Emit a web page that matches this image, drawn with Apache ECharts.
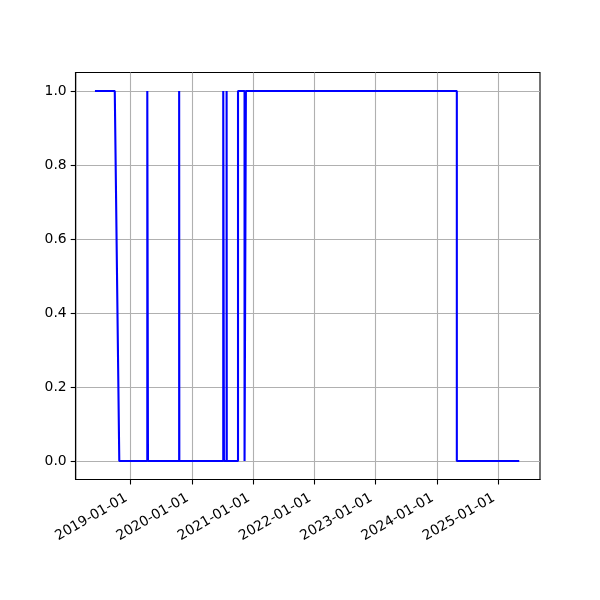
<!DOCTYPE html>
<html>
<head>
<meta charset="utf-8">
<script src="https://cdn.jsdelivr.net/npm/echarts@6/dist/echarts.min.js"></script>
<style>
html,body{margin:0;padding:0;background:#fff;}
#chart{width:600px;height:600px;}
</style>
</head>
<body>
<div id="chart"></div>
<script>
// Data
var dates = ['2018-06-08','2018-09-28','2018-10-25',
  '2019-04-10','2019-04-10','2019-04-14','2019-04-14',
  '2019-10-17','2019-10-17','2019-10-18','2019-10-18',
  '2020-07-06','2020-07-06','2020-07-10','2020-07-10',
  '2020-07-26','2020-07-26','2020-07-27','2020-07-27',
  '2020-10-02','2020-10-02',
  '2020-11-10','2020-11-10','2020-11-18','2020-11-18',
  '2024-04-29','2024-04-29','2025-04-30'];
var values = [1,1,0,
  0,1,1,0,
  0,1,1,0,
  0,1,1,0,
  0,1,1,0,
  0,1,
  1,0,0,1,
  1,0,0];
var xTickLabels = ['2019-01-01','2020-01-01','2021-01-01','2022-01-01','2023-01-01','2024-01-01','2025-01-01'];
var yTicks = [0.0, 0.2, 0.4, 0.6, 0.8, 1.0];
var xMin = '2018-02-07', xMax = '2025-09-07';
var yMin = -0.05, yMax = 1.05;

function parseDate(s){ var p = s.split('-'); return Date.UTC(+p[0], +p[1]-1, +p[2]); }
function pad(n){ return (n<10?'0':'')+n; }
function fmtDate(t){ var d = new Date(t); return d.getUTCFullYear()+'-'+pad(d.getUTCMonth()+1)+'-'+pad(d.getUTCDate()); }

var seriesData = dates.map(function(d,i){ return [parseDate(d), values[i]]; });
var xTickVals = xTickLabels.map(parseDate);

var chart = echarts.init(document.getElementById('chart'), null, {renderer:'canvas'});
var font = 'DejaVu Sans';
chart.setOption({
  animation: false,
  backgroundColor: '#ffffff',
  grid: {left: 75.7, right: 60, top: 72.5, bottom: 120.5, show: true, borderColor: '#000', borderWidth: 1.1, containLabel: false},
  xAxis: {
    type: 'value',
    min: parseDate(xMin), max: parseDate(xMax),
    axisLine: {show: true, onZero: false, lineStyle: {color: '#000', width: 1.1}},
    axisTick: {show: true, length: 5, lineStyle: {color: '#000', width: 1.1}, customValues: xTickVals},
    axisLabel: {customValues: xTickVals, rotate: 30, margin: 15, padding: [0, 5, 0, 0], color: '#000', fontFamily: font, fontSize: 13.9,
      formatter: function(v){ return fmtDate(v); }},
    splitLine: {show: true, lineStyle: {color: '#b0b0b0', width: 1.1}}
  },
  yAxis: {
    type: 'value',
    min: yMin, max: yMax,
    axisLine: {show: true, onZero: false, lineStyle: {color: '#000', width: 1.1}},
    axisTick: {show: true, length: 5, lineStyle: {color: '#000', width: 1.1}, customValues: yTicks},
    axisLabel: {customValues: yTicks, margin: 9, color: '#000', fontFamily: font, fontSize: 13.9,
      formatter: function(v){ return v.toFixed(1); }},
    splitLine: {show: true, lineStyle: {color: '#b0b0b0', width: 1.1}}
  },
  series: [{
    type: 'line',
    data: seriesData,
    showSymbol: false,
    lineStyle: {color: '#0000ff', width: 2.1, cap: 'square'},
    itemStyle: {color: '#0000ff'}
  }]
});
</script>
</body>
</html>
